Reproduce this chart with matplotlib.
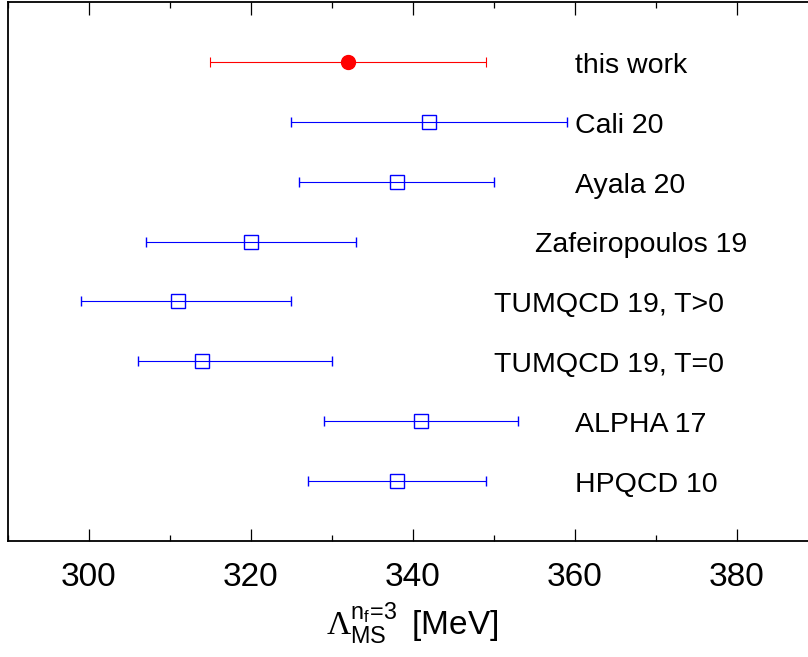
import matplotlib
matplotlib.use("Agg")
import matplotlib.pyplot as plt
from matplotlib.ticker import MultipleLocator

plt.rcParams["font.family"] = ["Liberation Sans", "DejaVu Sans"]
plt.rcParams["mathtext.fontset"] = "custom"
plt.rcParams["mathtext.rm"] = "Liberation Serif"
plt.rcParams["mathtext.sf"] = "Liberation Sans"
plt.rcParams["mathtext.it"] = "Liberation Sans:italic"

# results, top to bottom
labels = ["this work", "Cali 20", "Ayala 20", "Zafeiropoulos 19",
          "TUMQCD 19, T>0", "TUMQCD 19, T=0", "ALPHA 17", "HPQCD 10"]
centers = [332, 342, 338, 320, 311, 314, 341, 338]
err_lo = [17, 17, 12, 13, 12, 8, 12, 11]
err_hi = [17, 17, 12, 13, 14, 16, 12, 11]

# label placement (layout only)
label_x = [360.0, 360.0, 360.0, 355.1, 350.0, 350.0, 360.0, 360.0]

fig = plt.figure(figsize=(8.08, 6.57), dpi=100)
ax = fig.add_axes([8 / 808, 1 - 541 / 657, 809.5 / 808, 539 / 657])

n = len(labels)
for i, (lab, c, lo, hi) in enumerate(zip(labels, centers, err_lo, err_hi)):
    y = n - i
    if i == 0:
        ax.errorbar(c, y, xerr=[[lo], [hi]], fmt="o", color="red", ms=10,
                    elinewidth=0.8, capsize=3.6, capthick=0.8)
    else:
        ax.errorbar(c, y, xerr=[[lo], [hi]], fmt="s", color="blue", mfc="none",
                    ms=10.5, mew=1.0, elinewidth=0.8, capsize=3.6, capthick=0.8)
    ax.text(label_x[i], y - 0.065, lab, fontsize=20.5, va="center", ha="left")

ax.set_xlim(290, 390)
ax.set_ylim(0, n + 1)
ax.xaxis.set_major_locator(MultipleLocator(20))
ax.xaxis.set_minor_locator(MultipleLocator(10))
ax.tick_params(axis="x", which="both", direction="in", top=True, labelsize=24, pad=15)
ax.tick_params(axis="x", which="major", length=9, width=0.9)
ax.tick_params(axis="x", which="minor", length=4, width=0.9)
ax.set_yticks([])
for s in ax.spines.values():
    s.set_linewidth(1.3)

ax.set_xlabel(r"$\mathrm{\Lambda}^{\mathsf{n_f}\!\mathsf{=}\!\mathsf{3}}_{\mathsf{MS}}\,$ [MeV]",
              fontsize=24, labelpad=5)

fig.savefig("out.png", dpi=100)
